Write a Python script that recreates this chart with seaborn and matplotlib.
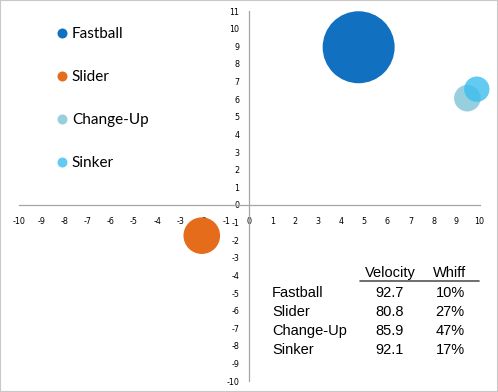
import numpy as np
import pandas as pd
import matplotlib.pyplot as plt
import seaborn as sns
from matplotlib.lines import Line2D
from matplotlib.patches import Rectangle

# pitch movement data
pitches = ['Fastball', 'Slider', 'Change-Up', 'Sinker']
h_move = [4.75, -2.06, 9.47, 9.88]
v_move = [8.95, -1.74, 6.06, 6.57]
bubble = [58, 15, 7.9, 7.2]
velocity = [92.7, 80.8, 85.9, 92.1]
whiff = [10, 27, 47, 17]

colors = {'Fastball': '#1270C0', 'Slider': '#E46C1A',
          'Change-Up': '#7EC3D6', 'Sinker': '#3CBEEE'}
alphas = {'Fastball': 1.0, 'Slider': 1.0, 'Change-Up': 0.8, 'Sinker': 0.8}

df = pd.DataFrame({'pitch': pitches, 'h': h_move, 'v': v_move, 'size': bubble})

sns.set_style('white')
plt.rcParams['axes.unicode_minus'] = False

W, H = 498, 392
fig = plt.figure(figsize=(W / 100, H / 100), dpi=100)
ax = fig.add_axes([0, 0, 1, 1])

sns.scatterplot(data=df, x='h', y='v', hue='pitch', palette=colors,
                size='size', sizes=(0, 2687), size_norm=(0, 58),
                linewidth=0, legend=False, ax=ax, zorder=3)

# per-point transparency
coll = ax.collections[0]
fc = coll.get_facecolors()
for i, p in enumerate(pitches):
    fc[i, 3] = alphas[p]
coll.set_facecolors(fc)

ax.set_xlim(-10.82, 10.8)
ax.set_ylim(-10.61, 11.63)
ax.set_xlabel('')
ax.set_ylabel('')
ax.set_facecolor('white')

axis_col = '#A6A6A6'
for s in ['top', 'right']:
    ax.spines[s].set_visible(False)
ax.spines['left'].set_position(('data', 0))
ax.spines['left'].set_bounds(-10, 11)
ax.spines['bottom'].set_position(('data', 0))
ax.spines['bottom'].set_bounds(-10, 10)
for s in ['left', 'bottom']:
    ax.spines[s].set_color(axis_col)
    ax.spines[s].set_linewidth(0.9)

ax.set_xticks(range(-10, 11))
ax.set_yticks(range(-10, 12))
ax.tick_params(axis='x', direction='in', length=2.5, color=axis_col,
               labelsize=5.8, labelcolor='black', pad=9)
ax.tick_params(axis='y', direction='out', length=3, color=axis_col,
               labelsize=5.8, labelcolor='black', pad=4)

# legend
handles = [Line2D([], [], marker='o', linestyle='', markersize=7.2,
                  markeredgewidth=0, color=colors[p], alpha=alphas[p])
           for p in pitches]
leg = ax.legend(handles, pitches, loc='upper left', bbox_to_anchor=(0.1, 0.946),
                frameon=False, prop={'family': 'Lato', 'size': 11},
                labelspacing=1.9, handlelength=0.8, handletextpad=0.24,
                borderaxespad=0)
for t in leg.get_texts():
    t.set_color('black')

# stats table
def px(x, y):
    return x / W, 1 - y / H

tfont = {'family': 'Liberation Sans', 'size': 10.5, 'color': 'black'}
ax.text(*px(390, 277), 'Velocity', ha='center', va='baseline',
        transform=ax.transAxes, **tfont)
ax.text(*px(450, 277), 'Whiff', ha='center', va='baseline',
        transform=ax.transAxes, **tfont)
x0, y0 = px(360, 280.7)
x1, _ = px(479, 280.7)
ax.plot([x0, x1], [y0, y0], color='#555555', lw=1.2, transform=ax.transAxes)
for i, p in enumerate(pitches):
    yb = 296.7 + 19 * i
    ax.text(*px(272, yb), p, ha='left', va='baseline',
            transform=ax.transAxes, **tfont)
    ax.text(*px(390, yb), f'{velocity[i]:.1f}', ha='center', va='baseline',
            transform=ax.transAxes, **tfont)
    ax.text(*px(450, yb), f'{whiff[i]}%', ha='center', va='baseline',
            transform=ax.transAxes, **tfont)

fig.patches.append(Rectangle((0, 0), 1, 1, transform=fig.transFigure,
                             fill=False, edgecolor='#C8C8C8', lw=1.5))

fig.savefig('out.png', dpi=100)
